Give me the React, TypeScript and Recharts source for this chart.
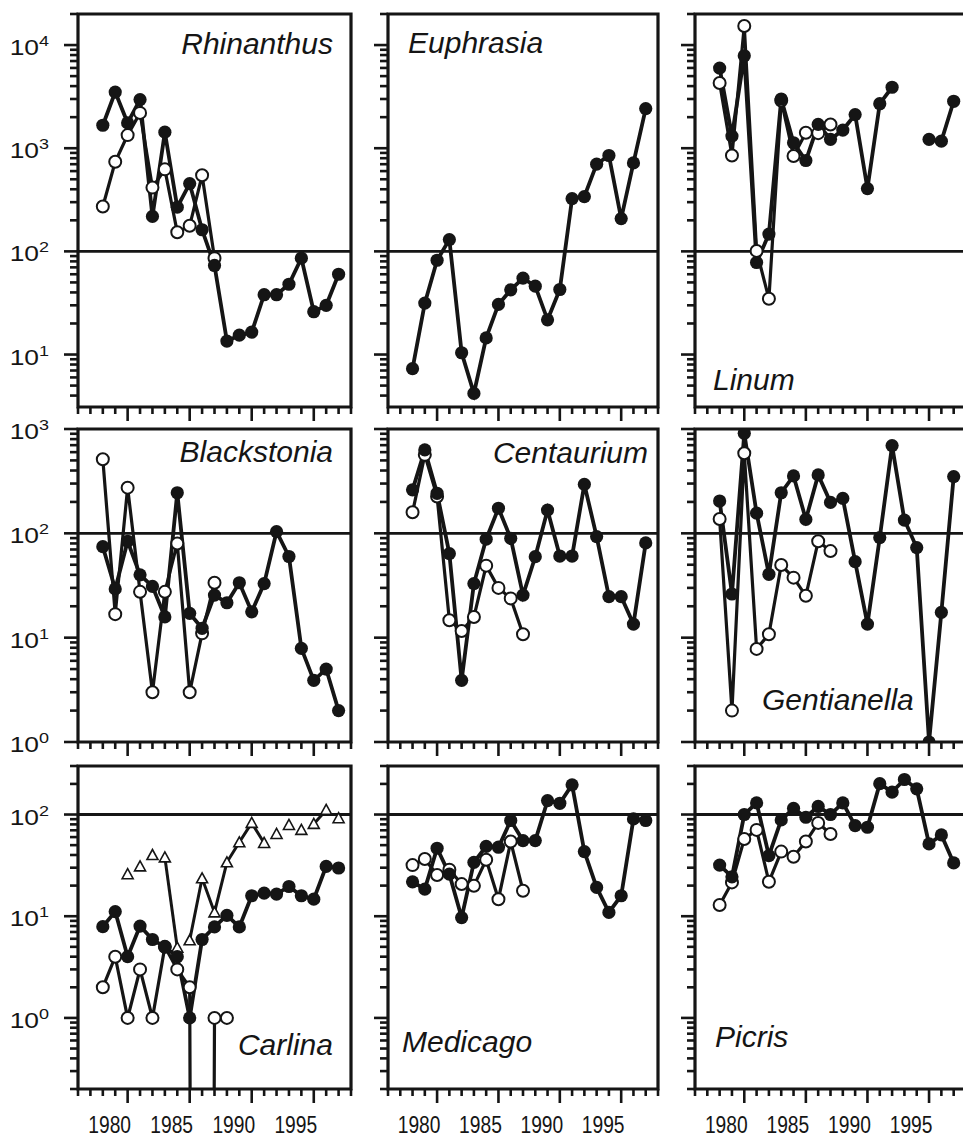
import React from 'react';
import { ComposedChart, Line, XAxis, YAxis, ReferenceLine, ReferenceArea } from 'recharts';

// years of census, 1978 - 1997
const YEARS = [1978, 1979, 1980, 1981, 1982, 1983, 1984, 1985, 1986, 1987, 1988, 1989, 1990, 1991, 1992, 1993, 1994, 1995, 1996, 1997];
const YEAR_TICKS = [1976, 1977, 1978, 1979, 1980, 1981, 1982, 1983, 1984, 1985, 1986, 1987, 1988, 1989, 1990, 1991, 1992, 1993, 1994, 1995, 1996, 1997, 1998];
const YEAR_LABELS = [1980, 1985, 1990, 1995];

// filled = whole site, open = first plot series (starts 1978)
const RHINANTHUS_FILLED = [1670, 3500, 1760, 2960, 218, 1430, 268, 454, 162, 73, 13.5, 15.4, 16.5, 38, 38, 48, 86, 26, 30, 60];
const RHINANTHUS_OPEN = [272, 739, 1340, 2200, 415, 624, 153, 177, 546, 86];

const EUPHRASIA_FILLED = [7.3, 31.5, 82, 130, 10.4, 4.2, 14.5, 30.6, 42.4, 55, 46, 21.7, 42.7, 325, 340, 700, 850, 208, 720, 2420];

const LINUM_FILLED = [5980, 1310, 7870, 78, 147, 3000, 1130, 760, 1700, 1220, 1500, 2120, 406, 2700, 3900, null, null, 1220, 1170, 2850];
const LINUM_OPEN = [4280, 850, 15300, 101, 34.7, 2900, 840, 1410, 1400, 1700];

const BLACKSTONIA_FILLED = [74.5, 29.3, 84, 40, 31, 15.8, 245, 17.1, 12.3, 25.6, 21.6, 33.6, 17.7, 33, 104, 60, 7.9, 3.9, 5, 2];
const BLACKSTONIA_OPEN = [513, 16.8, 274, 27.5, 3, 27.5, 80, 3, 11, 33.6];

const CENTAURIUM_FILLED = [261, 630, 242, 64, 3.9, 33, 88, 174, 89.5, 25.6, 59.7, 167, 60.6, 60.6, 295, 93, 24.7, 24.7, 13.5, 81];
const CENTAURIUM_OPEN = [159, 565, 225, 14.7, 11.6, 15.8, 49, 30, 23.8, 10.8];

const GENTIANELLA_FILLED = [204, 26.2, 910, 156, 40.5, 245, 355, 136, 363, 198, 216, 53.5, 13.5, 91, 693, 134, 73, 1, 17.5, 350];
const GENTIANELLA_OPEN = [137, 2, 586, 7.8, 10.8, 49.7, 37.6, 25.2, 84, 67.6];

const CARLINA_FILLED = [7.9, 11.1, 4.0, 8.0, 5.9, 5.0, 4.0, 1.0, 5.9, 7.85, 10.2, 7.85, 15.9, 16.9, 16.5, 19.6, 15.9, 14.7, 30.9, 29.8];
const CARLINA_OPEN = [2, 4, 1, 3, 1, 5, 3, 2, 0, 1, 1];
const CARLINA_TRI = [null, null, 25.9, 30.9, 40, 37.9, 4.9, 5.8, 23.6, 10.9, 33.9, 53.3, 82.7, 52.5, 64.4, 79, 70.6, 80.9, 111, 92];
const CARLINA_TRI_RUNS = [[1983, 1984], [1985, 1991], [1995, 1996]]; // years joined by a line

const MEDICAGO_FILLED = [21.8, 18.5, 46.6, 25.9, 9.7, 33.9, 48.7, 47.7, 87.3, 55.4, 55.4, 137, 129, 196, 43.2, 19.2, 10.9, 15.9, 90.6, 87.3];
const MEDICAGO_OPEN = [31.8, 36.5, 25.4, 28.7, 20.7, 19.9, 35.9, 14.7, 54.2, 17.8];

const PICRIS_FILLED = [31.8, 24.4, 100, 130, 39.4, 88.5, 115, 94, 120, 100, 130, 77.8, 75, 201, 166, 221, 179, 51.4, 63, 33.4];
const PICRIS_OPEN = [12.9, 21.5, 57.5, 70.6, 21.8, 43.2, 38.5, 54.2, 82.7, 64.4];

const ROW_DOMAINS: [number, number][] = [[3.1, 20000], [1, 1000], [0.2, 300]];

// layout (pixels)
const COL_X = [[78, 351], [388, 658], [695, 966]];
const ROW_Y = [[14, 407], [429, 742], [766, 1089]];
const TOP_PAD = 24;
const INK = '#151515';
const FONT = '"Liberation Sans", Arial, Helvetica, sans-serif';
const ZERO = 1e-30; // log(0): line runs straight off the bottom

type Panel = {
  name: string; row: number; col: number;
  filled: (number | null)[]; open?: number[]; tri?: (number | null)[];
  lx: number; ly: number; anchor: 'start' | 'end';
};

const PANELS: Panel[] = [
  { name: 'Rhinanthus', row: 0, col: 0, filled: RHINANTHUS_FILLED, open: RHINANTHUS_OPEN, lx: 333, ly: 54, anchor: 'end' },
  { name: 'Euphrasia', row: 0, col: 1, filled: EUPHRASIA_FILLED, lx: 408, ly: 53, anchor: 'start' },
  { name: 'Linum', row: 0, col: 2, filled: LINUM_FILLED, open: LINUM_OPEN, lx: 713, ly: 390, anchor: 'start' },
  { name: 'Blackstonia', row: 1, col: 0, filled: BLACKSTONIA_FILLED, open: BLACKSTONIA_OPEN, lx: 333, ly: 462, anchor: 'end' },
  { name: 'Centaurium', row: 1, col: 1, filled: CENTAURIUM_FILLED, open: CENTAURIUM_OPEN, lx: 648, ly: 463, anchor: 'end' },
  { name: 'Gentianella', row: 1, col: 2, filled: GENTIANELLA_FILLED, open: GENTIANELLA_OPEN, lx: 762, ly: 710, anchor: 'start' },
  { name: 'Carlina', row: 2, col: 0, filled: CARLINA_FILLED, open: CARLINA_OPEN, tri: CARLINA_TRI, lx: 333, ly: 1055, anchor: 'end' },
  { name: 'Medicago', row: 2, col: 1, filled: MEDICAGO_FILLED, open: MEDICAGO_OPEN, lx: 402, ly: 1052, anchor: 'start' },
  { name: 'Picris', row: 2, col: 2, filled: PICRIS_FILLED, open: PICRIS_OPEN, lx: 715, ly: 1047, anchor: 'start' },
];

// 1..9 x 10^k inside the domain
const logTicks = ([min, max]: [number, number]) => {
  const out: number[] = [];
  for (let k = Math.floor(Math.log10(min)); k <= Math.ceil(Math.log10(max)); k++) {
    for (let m = 1; m <= 9; m++) {
      const v = k < 0 ? m / 10 ** -k : m * 10 ** k;
      if (v >= min * 0.999 && v <= max * 1.001) out.push(v);
    }
  }
  return out;
};

const buildRows = (p: Panel) =>
  YEARS.map((year, i) => {
    const r: any = { year, filled: p.filled[i] };
    if (p.open && i < p.open.length) r.open = p.open[i] === 0 ? ZERO : p.open[i];
    if (p.tri) {
      r.tri = p.tri[i];
      CARLINA_TRI_RUNS.forEach(([a, b], k) => {
        if (year >= a && year <= b) r['run' + k] = p.tri![i];
      });
    }
    return r;
  });

// year labels sit a little left of their tick in the original
const XTick = (props: any) => {
  const { x, y, payload, showLabel } = props;
  const v = payload.value;
  const major = v % 5 === 0;
  return (
    <g>
      <line x1={x} x2={x} y1={y} y2={y + (major ? 14 : 7)} stroke={INK} strokeWidth={2.6} />
      {showLabel && YEAR_LABELS.includes(v) && (
        <text transform={`translate(${x - 18},${y + 44}) scale(0.8,1)`} textAnchor="middle" fontSize={24} fill={INK} fontFamily={FONT}>
          {v}
        </text>
      )}
    </g>
  );
};

const YTick = (props: any) => {
  const { x, y, payload, showLabel } = props;
  const lg = Math.log10(payload.value);
  const exp = Math.round(lg);
  const major = Math.abs(lg - exp) < 1e-6;
  return (
    <g>
      <line x1={x} x2={x - (major ? 14 : 8)} y1={y} y2={y} stroke={INK} strokeWidth={2.6} />
      {showLabel && major && (
        <text transform={`translate(${x - 29},${y + 10}) scale(1.2,1)`} textAnchor="end" fontSize={22} fill={INK} fontFamily={FONT}>
          10<tspan fontSize={15} dy={-9}>{exp}</tspan>
        </text>
      )}
    </g>
  );
};

const triDot = (props: any) => {
  const { cx, cy, index } = props;
  if (cx == null || cy == null || !isFinite(cy)) return <g key={'t' + index} />;
  return (
    <path key={'t' + index} d={`M${cx},${cy - 5.5} L${cx + 5.5},${cy + 4.5} L${cx - 5.5},${cy + 4.5} Z`} fill="#fff" stroke={INK} strokeWidth={1.6} />
  );
};

const PanelChart = ({ p }: { p: Panel }) => {
  const [x0, x1] = COL_X[p.col];
  const [y0, y1] = ROW_Y[p.row];
  const dom = ROW_DOMAINS[p.row];
  const data = buildRows(p);
  return (
    <div style={{ position: 'absolute', left: x0 - 70, top: y0 - TOP_PAD }}>
      <ComposedChart width={x1 - x0 + 80} height={y1 - y0 + 50 + TOP_PAD} data={data} margin={{ top: TOP_PAD, right: 10, bottom: 0, left: 0 }}>
        <XAxis
          type="number" dataKey="year" domain={[1976, 1998]} allowDataOverflow ticks={YEAR_TICKS} interval={0}
          tickLine={false} axisLine={false} tickSize={0} tickMargin={0} height={50}
          tick={(t: any) => <XTick {...t} showLabel={p.row === 2} />}
        />
        <YAxis
          type="number" scale="log" domain={dom} allowDataOverflow ticks={logTicks(dom)} interval={0}
          tickLine={false} axisLine={false} tickSize={0} tickMargin={0} width={70}
          tick={(t: any) => <YTick {...t} showLabel={p.col === 0} />}
        />
        <ReferenceArea x1={1976} x2={1998} y1={dom[0]} y2={dom[1]} fill="none" stroke={INK} strokeWidth={3.2} ifOverflow="visible" />
        <ReferenceLine y={100} stroke={INK} strokeWidth={2.8} />
        {p.tri && CARLINA_TRI_RUNS.map((_, k) => (
          <Line key={'run' + k} dataKey={'run' + k} stroke={INK} strokeWidth={3} dot={false} isAnimationActive={false} />
        ))}
        {p.tri && <Line dataKey="tri" stroke="none" dot={triDot} isAnimationActive={false} />}
        {p.open && (
          <Line dataKey="open" stroke={INK} strokeWidth={3.2} dot={{ r: 6, fill: '#fff', stroke: INK, strokeWidth: 2 }} isAnimationActive={false} />
        )}
        <Line dataKey="filled" stroke={INK} strokeWidth={3.8} dot={{ r: 6.6, fill: INK, stroke: INK, strokeWidth: 0 }} isAnimationActive={false} />
      </ComposedChart>
    </div>
  );
};

export default function App() {
  return (
    <div style={{ position: 'absolute', left: 0, top: 0, width: 963, height: 1144, overflow: 'hidden', background: '#fff' }}>
      {PANELS.map((p) => <PanelChart key={p.name} p={p} />)}
      <svg width={963} height={1144} style={{ position: 'absolute', left: 0, top: 0, pointerEvents: 'none' }}>
        {PANELS.map((p) => (
          <text key={p.name} x={p.lx} y={p.ly} textAnchor={p.anchor} fontSize={30} fontStyle="italic" fill={INK} fontFamily={FONT}>
            {p.name}
          </text>
        ))}
      </svg>
    </div>
  );
}
